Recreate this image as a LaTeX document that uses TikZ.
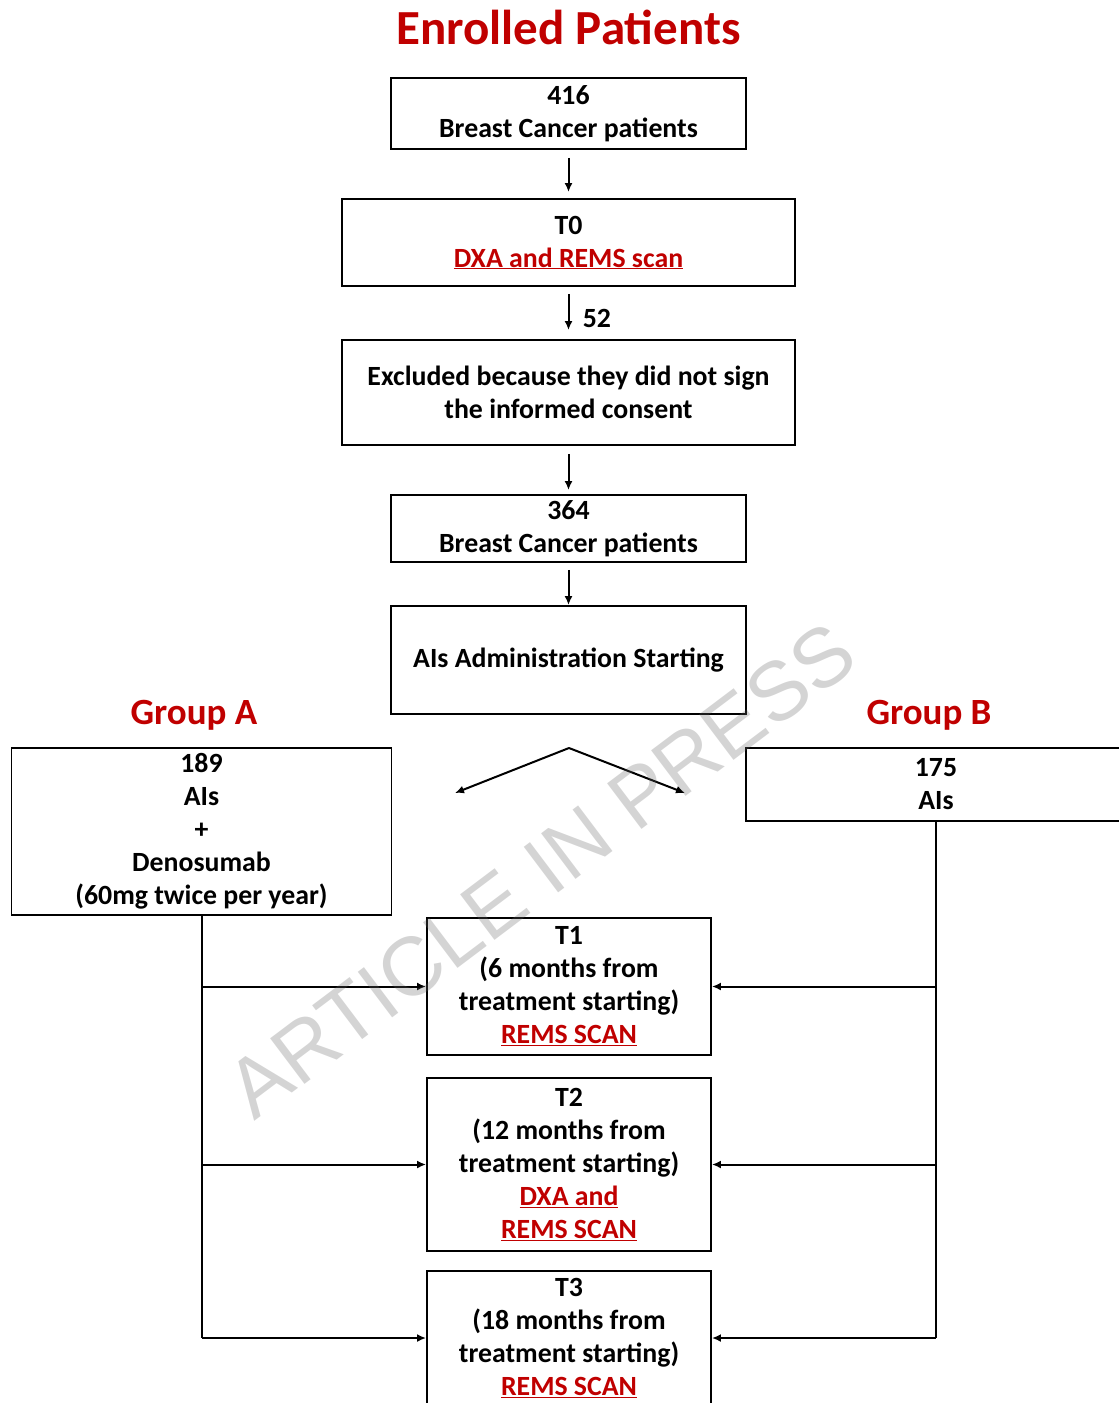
\documentclass[tikz,border=0pt]{standalone}
\usepackage{fontspec}
\setmainfont{Carlito}
\newfontfamily\wmfont{Liberation Sans}
\usetikzlibrary{arrows.meta}
\definecolor{darkred}{HTML}{C00000}
\newcommand{\redline}[1]{\textcolor{darkred}{\underline{#1}}}
\begin{document}
\begin{tikzpicture}[x=1pt,y=-1pt,
  box/.style={draw, line width=1.9pt, rectangle, inner sep=0pt, align=center,
    font=\fontsize{27.8}{33}\selectfont\bfseries},
  conn/.style={line width=2pt, -{Latex[length=9pt,width=8pt]}},
  plain/.style={line width=2pt},
  head/.style={text=darkred, font=\fontsize{37}{40}\selectfont\bfseries},
  lbl/.style={font=\fontsize{27.8}{33}\selectfont\bfseries}]
\useasboundingbox (0,0) rectangle (1119,1403);

\node[text=darkred, font=\fontsize{49}{52}\selectfont\bfseries] (title) at (568.5,27) {Enrolled Patients};

\node[box, minimum width=355pt, minimum height=71pt] (b1) at (568.5,113.5) {416\\Breast Cancer patients};
\node[box, minimum width=453pt, minimum height=87pt] (b2) at (568.5,242.5) {T0\\\redline{DXA and REMS scan}};
\node[box, minimum width=453pt, minimum height=105pt] (b3) at (568.5,392.5) {Excluded because they did not sign\\the informed consent};
\node[box, minimum width=355pt, minimum height=67pt] (b4) at (568.5,528.5) {364\\Breast Cancer patients};
\node[box, minimum width=355pt, minimum height=108pt] (b5) at (568.5,660) {AIs Administration Starting};

\node[head] (ga) at (194,715) {Group A};
\node[head] (gb) at (929,715) {Group B};

\node[box, minimum width=380pt, minimum height=167pt] (gabox) at (201.5,831.5) {189\\AIs\\+\\Denosumab\\(60mg twice per year)};
\node[box, minimum width=380pt, minimum height=73pt] (gbbox) at (936,784.5) {175\\AIs};

\node[box, minimum width=284pt, minimum height=137pt] (t1) at (569,986.5) {T1\\(6 months from\\treatment starting)\\\redline{REMS SCAN}};
\node[box, minimum width=284pt, minimum height=173pt] (t2) at (569,1164.5) {T2\\(12 months from\\treatment starting)\\\redline{DXA and}\\\redline{REMS SCAN}};
\node[box, minimum width=284pt, minimum height=134pt] (t3) at (569,1338) {T3\\(18 months from\\treatment starting)\\\redline{REMS SCAN}};

% vertical chain
\draw[conn, shorten <=8pt, shorten >=6pt] (b1.south) -- (b2.north);
\draw[conn, shorten <=7pt, shorten >=9pt] (b2.south) -- (b3.north) node[lbl, pos=0.6, right=10pt] (n52) {52};
\draw[conn, shorten <=8pt, shorten >=4pt] (b3.south) -- (b4.north);
\draw[conn, shorten <=7pt] (b4.south) -- (b5.north);

% split arrows
\coordinate (apex) at (569,748);
\coordinate (vl) at (455,793);
\coordinate (vr) at (685,793);
\draw[conn] (apex) -- (vl);
\draw[conn] (apex) -- (vr);

% group A feed
\coordinate (gaend) at (gabox.south |- t3.west);
\draw[plain] (gabox.south) -- (gaend);
\draw[conn] (gaend |- t1.west) -- (t1.west);
\draw[conn] (gaend |- t2.west) -- (t2.west);
\draw[conn] (gaend) -- (t3.west);

% group B feed
\coordinate (gbend) at (gbbox.south |- t3.east);
\draw[plain] (gbbox.south) -- (gbend);
\draw[conn] (gbend |- t1.east) -- (t1.east);
\draw[conn] (gbend |- t2.east) -- (t2.east);
\draw[conn] (gbend) -- (t3.east);

% watermark
\node[rotate=37, text=black!60, text opacity=0.28, font=\wmfont\fontsize{83}{83}\selectfont] (wm) at (541,870) {ARTICLE IN PRESS};
\end{tikzpicture}
\end{document}
